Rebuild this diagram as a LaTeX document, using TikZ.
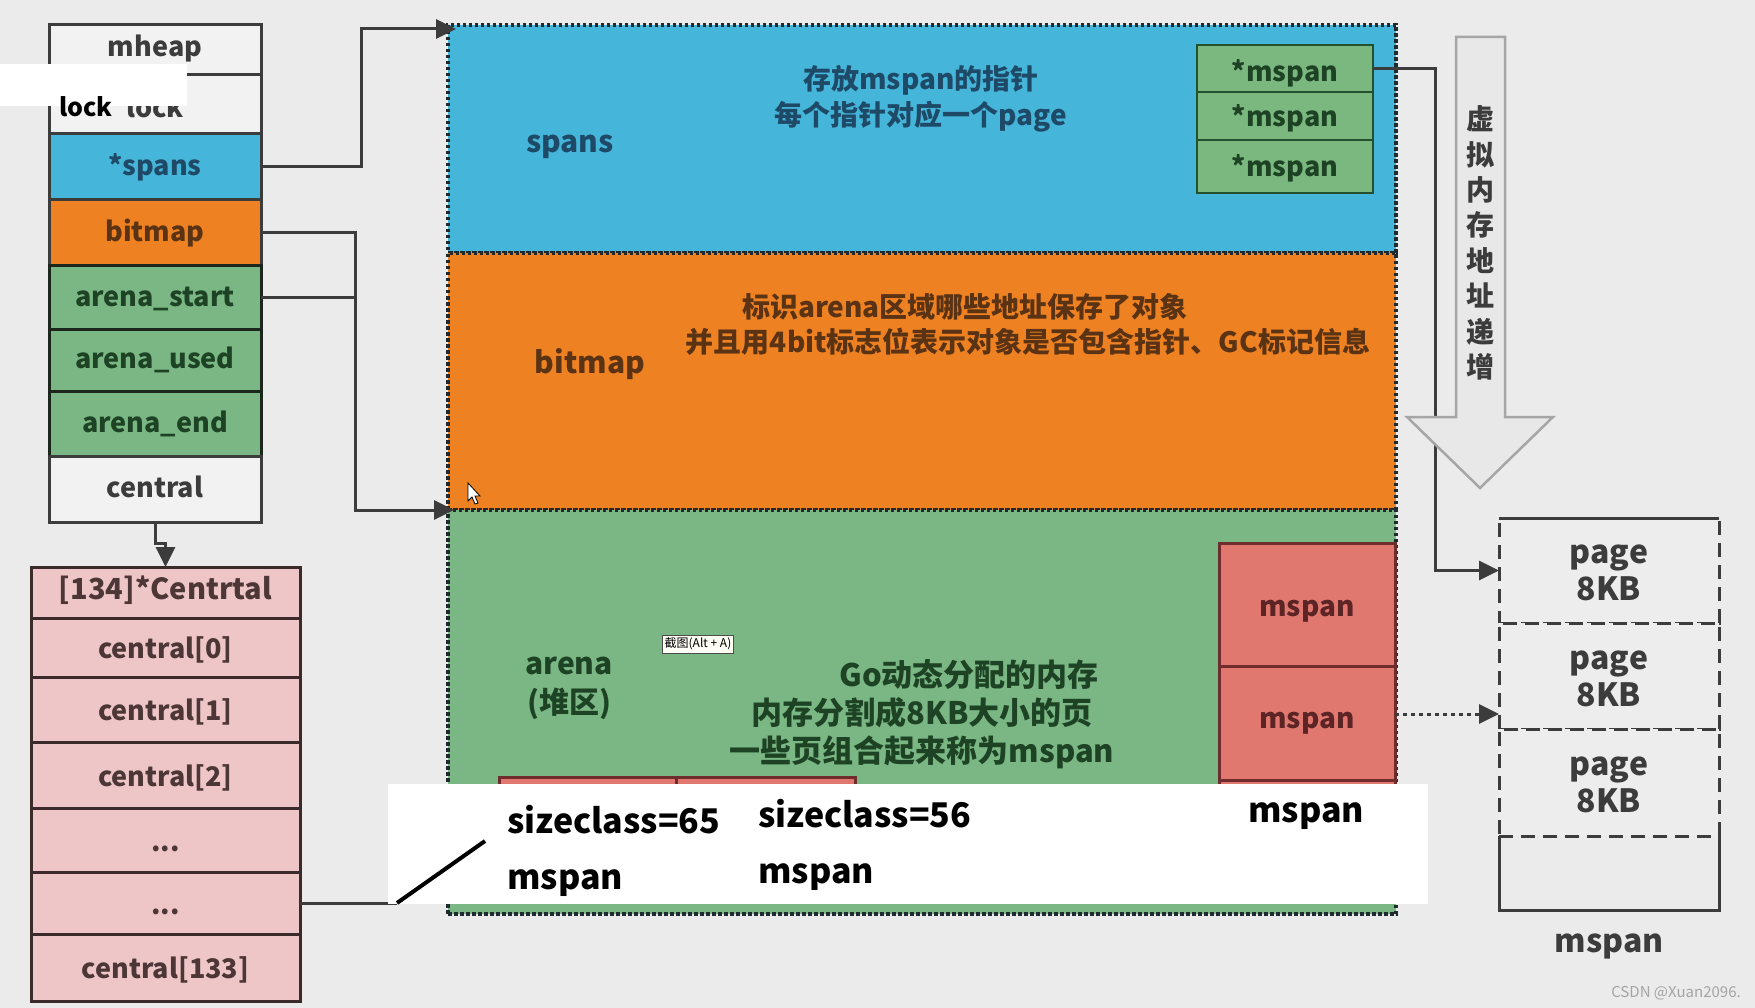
\documentclass[tikz,border=0pt]{standalone}
\usepackage{fontspec}
\setmainfont{Noto Sans CJK SC}
\usetikzlibrary{arrows.meta,shapes,calc,positioning}

\definecolor{bggray}{HTML}{EBEBEB}
\definecolor{rowwhite}{HTML}{F2F2F2}
\definecolor{pagefill}{HTML}{EDEDED}
\definecolor{spanblue}{HTML}{45B5D9}
\definecolor{bitorange}{HTML}{EE8121}
\definecolor{arenagreen}{HTML}{7AB784}
\definecolor{mboxgreen}{HTML}{7AB87F}
\definecolor{mspanred}{HTML}{E07870}
\definecolor{centpink}{HTML}{EEC6C8}
\definecolor{linegray}{HTML}{3C3C3C}
\definecolor{darkline}{HTML}{1C261C}
\definecolor{dotline}{HTML}{1E2A2E}
\definecolor{mboxline}{HTML}{24502E}
\definecolor{rboxline}{HTML}{6E2C2C}
\definecolor{pinkline}{HTML}{3A2A2A}
\definecolor{navytext}{HTML}{1E4A68}
\definecolor{browntext}{HTML}{5A3214}
\definecolor{greentext}{HTML}{1D4324}
\definecolor{redtext}{HTML}{5C2424}
\definecolor{pinktext}{HTML}{4C3636}
\definecolor{arrowgray}{HTML}{A6A6A6}
\definecolor{arrowfill}{HTML}{E8E8E8}
\definecolor{marktext}{HTML}{A4A4A4}

\begin{document}
\begin{tikzpicture}[x=1pt, y=-1pt, >={Triangle[length=20pt, width=19pt]},
    row/.style={rectangle, draw=linegray, line width=3pt, fill=rowwhite, minimum width=212pt, inner sep=0pt, outer sep=0pt, text height=21.5pt, text depth=4.5pt, text=linegray, font=\bfseries\fontsize{27}{27}\selectfont},
    arow/.style={row, draw=darkline, fill=arenagreen, text=greentext},
    prow/.style={row, draw=pinkline, fill=centpink, minimum width=269pt, text=pinktext, text height=23pt, text depth=1pt},
    region/.style={rectangle, draw=dotline, line width=3.5pt, dash pattern=on 3.5pt off 2.5pt, minimum width=948pt, inner sep=0pt, outer sep=0pt},
    mbox/.style={rectangle, draw=mboxline, line width=2.5pt, fill=mboxgreen, minimum width=176pt, inner sep=0pt, outer sep=0pt, text height=23pt, text depth=2pt, text=greentext, font=\bfseries\fontsize{27}{27}\selectfont},
    rbox/.style={rectangle, draw=rboxline, line width=3pt, fill=mspanred, minimum width=176pt, inner sep=0pt, outer sep=0pt, text=redtext, font=\bfseries\fontsize{28}{28}\selectfont},
    pagebox/.style={rectangle, draw=linegray, line width=3pt, dash pattern=on 14pt off 8pt, fill=pagefill, minimum width=220pt, inner sep=0pt, outer sep=0pt, align=center, text=linegray, font=\bfseries\fontsize{32}{37}\selectfont},
    lbl/.style={inner sep=0pt, align=center, font=\bfseries\fontsize{30}{39}\selectfont},
    desc/.style={inner sep=0pt, align=center, font=\bfseries\fontsize{28}{36}\selectfont},
    tag/.style={inner sep=0pt, anchor=west, text=black, font=\bfseries\fontsize{34}{34}\selectfont},
    link/.style={draw=linegray, line width=3pt},
  ]

    \useasboundingbox (0,0) rectangle (1755,1008);
    \fill[bggray] (0,0) rectangle (1755,1008);

    % big memory block
    \node[region, fill=spanblue, minimum height=228pt] (spanbox) at (922,139) {};
    \node[region, fill=bitorange, minimum height=257pt, below=0pt of spanbox] (bitbox) {};
    \node[region, fill=arenagreen, minimum height=404pt, below=0pt of bitbox] (arenabox) {};

    % mheap struct
    \node[row, minimum height=50pt, text height=20pt, text depth=6pt] (mheap) at (155,50) {mheap};
    \node[row, minimum height=59pt, text height=26pt, text depth=0pt, below=0pt of mheap] (lock) {lock};
    \node[row, fill=spanblue, text=navytext, minimum height=66pt, below=0pt of lock] (spans) {*spans};
    \node[row, fill=bitorange, text=browntext, minimum height=66pt, below=0pt of spans] (bitmap) {bitmap};
    \node[arow, minimum height=63pt, below=0pt of bitmap] (astart) {arena\_start};
    \node[arow, minimum height=62pt, below=0pt of astart] (aused) {arena\_used};
    \node[arow, minimum height=65pt, below=0pt of aused] (aend) {arena\_end};
    \node[row, minimum height=66pt, below=0pt of aend] (central) {central};

    % central array
    \node[prow, minimum height=51pt, text height=20pt, text depth=6pt, font=\bfseries\fontsize{29}{29}\selectfont] (ctitle) at (165.5,592.5) {[134]*Centrtal};
    \node[prow, minimum height=59pt, below=0pt of ctitle] (c0) {central[0]};
    \node[prow, minimum height=65pt, below=0pt of c0] (c1) {central[1]};
    \node[prow, minimum height=66pt, below=0pt of c1] (c2) {central[2]};
    \node[prow, minimum height=64pt, below=0pt of c2] (dots1) {...};
    \node[prow, minimum height=62pt, below=0pt of dots1] (dots2) {...};
    \node[prow, minimum height=67pt, below=0pt of dots2] (c133) {central[133]};

    \draw[link, ->] (spans.east) -- ++(100,0) |- ([yshift=-4pt, xshift=8pt]spanbox.north west);
    \draw[link, ->] (bitmap.east) -- ++(94,0) |- ([xshift=6pt]arenabox.north west);
    \draw[link] (astart.east) -- ++(94,0);
    \draw[link, ->] (central.south) -- ++(0,21) -| (ctitle.north);
    \draw[link] (dots2.east) -- ++(97,0) coordinate (slashfoot);

    % spans area
    \node[lbl, text=navytext] (spanslbl) at (570,147) {spans};
    \node[desc, text=navytext] (spandesc) at (921,99) {存放mspan的指针\\每个指针对应一个page};
    \node[mbox, minimum height=47pt, text height=26pt, text depth=0pt] (mp1) at (1285,68.5) {*mspan};
    \node[mbox, minimum height=48pt, below=0pt of mp1] (mp2) {*mspan};
    \node[mbox, minimum height=53pt, below=0pt of mp2] (mp3) {*mspan};

    % bitmap area
    \node[lbl, text=browntext] (bitlbl) at (590,364) {bitmap};
    \node[desc, text=browntext] (bitdesc1) at (965,307) {标识arena区域哪些地址保存了对象};
    \node[desc, text=browntext] (bitdesc2) at (1028,342) {并且用4bit标志位表示对象是否包含指针、GC标记信息};

    % arena area
    \node[lbl, text=greentext] (arenalbl) at (569,688) {arena\\(堆区)};
    \node[desc, text=greentext, font=\bfseries\fontsize{31}{31}\selectfont] (adesc1) at (969,675) {Go动态分配的内存};
    \node[desc, text=greentext, font=\bfseries\fontsize{31}{31}\selectfont] (adesc2) at (922,713) {内存分割成8KB大小的页};
    \node[desc, text=greentext, font=\bfseries\fontsize{31}{31}\selectfont] (adesc3) at (922,752) {一些页组合起来称为mspan};
    \node[rbox, minimum height=123pt, text height=24pt, text depth=0pt] (mred1) at (1307,604.5) {mspan};
    \node[rbox, minimum height=114pt, below=0pt of mred1] (mred2) {mspan};
    \node[rbox, minimum height=120pt, below=0pt of mred2] (mred3) {};
    \node[rbox, minimum width=177pt, minimum height=122pt] (rsmall1) at (587.5,838) {};
    \node[rbox, minimum width=179pt, minimum height=122pt, right=0pt of rsmall1] (rsmall2) {};
    \node[draw=black!70, line width=0.8pt, fill=yellow!4, inner sep=2pt, minimum height=18pt, font=\fontsize{12}{12}\selectfont] (tip) at (698,644) {截图(Alt + A)};
    \filldraw[fill=white, draw=black, line width=0.8pt] (468,483) -- (468,501) -- (472,497) -- (475,504) -- (478,503) -- (475,496) -- (480,496) -- cycle;

    % pages of one mspan
    \node[pagebox, minimum height=105pt, text height=60pt, text depth=0pt] (pg1) at (1609,570.5) {page\\8KB};
    \node[pagebox, minimum height=106pt, text height=60pt, text depth=0pt, below=0pt of pg1] (pg2) {page\\8KB};
    \node[pagebox, minimum height=107pt, text height=60pt, text depth=0pt, below=0pt of pg2] (pg3) {page\\8KB};
    \draw[link] (pg3.south west) -- ++(0,74) -| (pg3.south east);
    \draw[link] (pg1.north west) -- (pg1.north east);
    \node[lbl, text=linegray, font=\bfseries\fontsize{32}{32}\selectfont] (mspanlbl) at (1609,946) {mspan};

    \draw[link, ->] (mp1.east) -- ++(62,0) |- (pg1.west);
    \coordinate (dsrc) at ([yshift=9pt]mred2.east);
    \draw[link, dash pattern=on 4pt off 4pt, ->] (dsrc) -- (dsrc -| pg2.west);

    % address direction arrow
    \filldraw[fill=arrowfill, draw=arrowgray, line width=2.5pt] (1456,37) -- (1505,37) -- (1505,417) -- (1553,417) -- (1480,488) -- (1407,417) -- (1456,417) -- cycle;
    \node[inner sep=0pt, align=center, text=linegray, font=\bfseries\fontsize{28}{35.4}\selectfont] (addrtxt) at (1480,243) {虚\\拟\\内\\存\\地\\址\\递\\增};

    % later marks on top
    \node[fill=white, inner sep=0pt, minimum width=187pt, minimum height=42pt] (lockcover) at (93.5,85) {};
    \node[inner sep=0pt, text=black, font=\bfseries\fontsize{25}{25}\selectfont] (locknote) at (86,107) {lock};
    \node[fill=white, inner sep=0pt, minimum width=1040pt, minimum height=120pt] (cover) at (908,844) {};
    \node[tag] (sc65) at (507,820) {sizeclass=65};
    \node[tag] (ms65) at (507,883) {mspan};
    \node[tag] (sc56) at (758,814) {sizeclass=56};
    \node[tag] (ms56) at (758,877) {mspan};
    \node[tag] (msr) at (1248,816) {mspan};
    \draw[line width=4pt, black] (slashfoot) -- ++(88,-62);

    \node[text=marktext, font=\fontsize{15}{15}\selectfont] (mark) at (1676,993) {CSDN @Xuan2096.};
\end{tikzpicture}
\end{document}
